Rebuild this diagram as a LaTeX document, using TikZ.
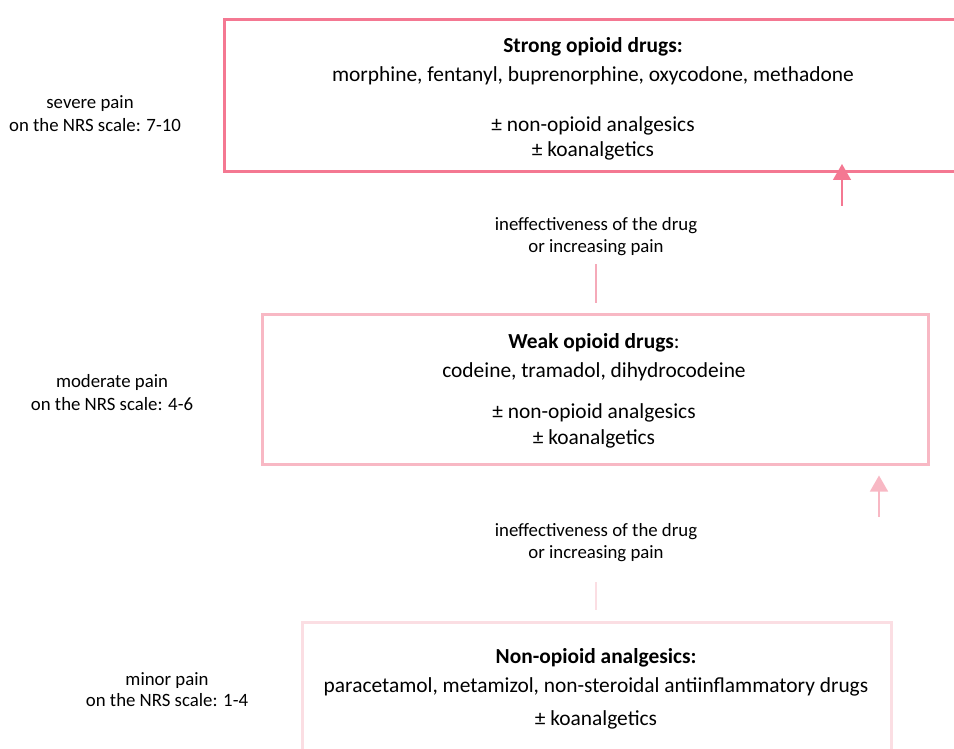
\documentclass[tikz,border=0pt]{standalone}
\usepackage{fontspec}
\setmainfont{Carlito}
\usetikzlibrary{arrows.meta}
\definecolor{pinkA}{RGB}{244,120,146}
\definecolor{pinkB}{RGB}{248,184,196}
\definecolor{pinkC}{RGB}{251,222,227}
\definecolor{pinkL}{RGB}{245,170,185}
\tikzset{
  box/.style={draw, line width=3pt, anchor=north west, inner sep=0pt},
  boxtxt/.style={font=\fontsize{21.4}{24}\selectfont, inner sep=0pt, anchor=base},
  sidetxt/.style={font=\fontsize{18.8}{21}\selectfont, inner sep=0pt, anchor=base},
  uparrow/.style={line width=1.4pt, -{Triangle[width=18pt,length=16pt]}},
  stub/.style={line width=1.5pt}
}
\begin{document}
\begin{tikzpicture}[x=1pt,y=-1pt]
\useasboundingbox (0,0) rectangle (954,749);
% boxes
\node[box, draw=pinkA, minimum width=760pt, minimum height=152pt] (strong) at (223,18) {};
\node[box, draw=pinkB, line width=2.5pt, minimum width=666pt, minimum height=150pt] (weak) at (261,313) {};
\node[box, draw=pinkC, line width=2.5pt, minimum width=589pt, minimum height=160pt] (nonop) at (301,621) {};
% box 1 text
\node[boxtxt] (s1) at (593,53) {\textbf{Strong opioid drugs:}};
\node[boxtxt] (s2) at (593,82) {morphine, fentanyl, buprenorphine, oxycodone, methadone};
\node[boxtxt] (s3) at (593,132) {± non-opioid analgesics};
\node[boxtxt] (s4) at (593,157) {± koanalgetics};
% box 2 text
\node[boxtxt] (w1) at (594,348) {\textbf{Weak opioid drugs}:};
\node[boxtxt] (w2) at (594,377) {codeine, tramadol, dihydrocodeine};
\node[boxtxt] (w3) at (594,418) {± non-opioid analgesics};
\node[boxtxt] (w4) at (594,444) {± koanalgetics};
% box 3 text
\node[boxtxt] (n1) at (596,663) {\textbf{Non-opioid analgesics:}};
\node[boxtxt] (n2) at (596,692) {paracetamol, metamizol, non-steroidal antiinflammatory drugs};
\node[boxtxt] (n3) at (596,725) {± koanalgetics};
% side labels
\node[sidetxt] (l1a) at (90,109) {severe pain};
\node[sidetxt] (l1b) at (95,132) {on the NRS scale: 7-10};
\node[sidetxt] (l2a) at (112,387) {moderate pain};
\node[sidetxt] (l2b) at (112,410) {on the NRS scale: 4-6};
\node[sidetxt] (l3a) at (167,685) {minor pain};
\node[sidetxt] (l3b) at (167,706) {on the NRS scale: 1-4};
% middle labels
\node[sidetxt] (m1a) at (596,230) {ineffectiveness of the drug};
\node[sidetxt] (m1b) at (596,252) {or increasing pain};
\node[sidetxt] (m2a) at (596,536) {ineffectiveness of the drug};
\node[sidetxt] (m2b) at (596,558) {or increasing pain};
% stubs
\coordinate (t1a) at (596,264); \coordinate (t1b) at (596,303);
\draw[stub, draw=pinkL] (t1a) -- (t1b);
\coordinate (t2a) at (596,582); \coordinate (t2b) at (596,610);
\draw[stub, draw=pinkC] (t2a) -- (t2b);
% arrows
\coordinate (a1) at (842,206);
\draw[uparrow, draw=pinkA, fill=pinkA] (a1) -- ([yshift=9pt]a1 |- strong.south);
\coordinate (a2) at (879,517);
\draw[uparrow, draw=pinkB, fill=pinkB] (a2) -- ([yshift=-10pt]a2 |- weak.south);
\end{tikzpicture}
\end{document}
